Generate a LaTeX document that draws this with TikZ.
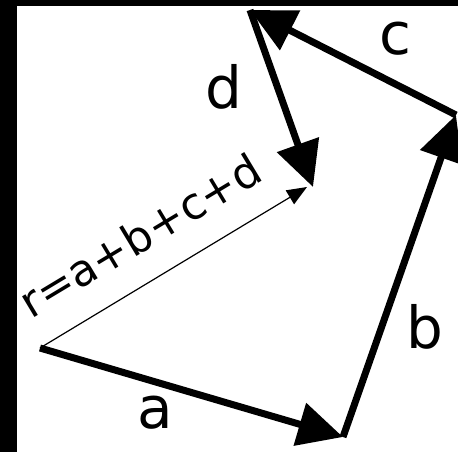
\documentclass[tikz,border=0pt]{standalone}
\usepackage{fontspec}
\setmainfont{DejaVu Sans}
\usetikzlibrary{arrows.meta}
\begin{document}
\begin{tikzpicture}[x=1pt,y=-1pt,
  vec/.style={line width=7pt, -{Triangle[length=45pt,width=43pt]}},
  res/.style={line width=1.2pt, -{Triangle[length=20pt,width=16pt]}},
  lbl/.style={font=\fontsize{58}{58}\selectfont, inner sep=0pt, anchor=base},
  rlbl/.style={font=\fontsize{44}{44}\selectfont, inner sep=0pt, rotate=31}]
\useasboundingbox (0,0) rectangle (458,452);
\fill[black] (0,0) rectangle (17,452);
\fill[black] (0,0) rectangle (458,6);
\coordinate (O) at (40,348);
\coordinate (A) at (343,437);
\coordinate (B) at (456,115);
\coordinate (C) at (250,10);
\coordinate (D) at (313,187);
\coordinate (R) at (307,187);
\draw[vec] (O) -- (A);
\draw[vec] (A) -- (B);
\draw[vec] (B) -- (C);
\draw[vec] (C) -- (D);
\draw[res] (O) -- (R);
\node[lbl] (la) at (155,428) {a};
\node[lbl] (lb) at (425,348) {b};
\node[lbl] (lc) at (395,55) {c};
\node[lbl] (ld) at (224,108) {d};
\node[rlbl] (lr) at (140,235) {r=a+b+c+d};
\end{tikzpicture}
\end{document}
